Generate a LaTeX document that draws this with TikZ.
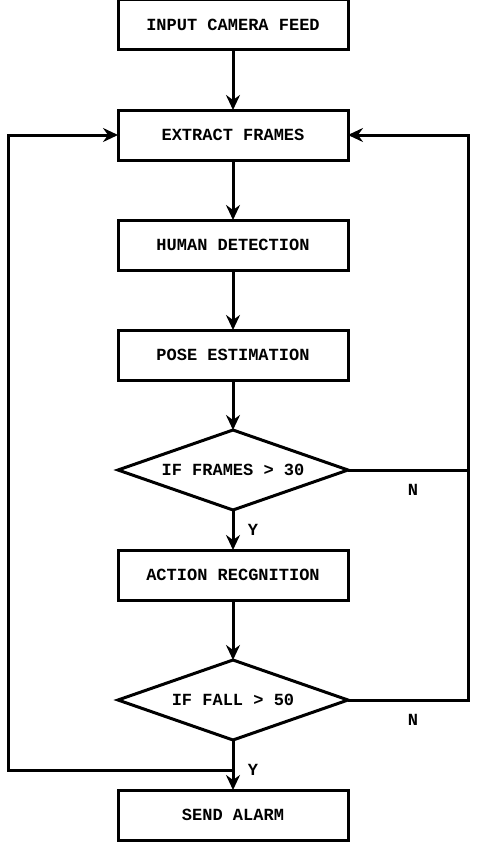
\documentclass[tikz,border=0pt]{standalone}
\usepackage{fontspec}
\newfontfamily\flowfont{Liberation Mono}
\usetikzlibrary{positioning,shapes.geometric,arrows.meta}

\begin{document}
\begin{tikzpicture}[x=1pt, y=1pt,
					node distance=60pt,
					stepbox/.style={rectangle, draw=black, line width=3pt, outer sep=0pt, minimum width=230pt,
						minimum height=50pt, font=\flowfont\bfseries\fontsize{17}{20}\selectfont},
					decision/.style={diamond, aspect=2.875, draw=black, line width=3pt, outer sep=0pt,
						minimum width=230pt, minimum height=80pt, inner sep=0pt,
						font=\flowfont\bfseries\fontsize{17}{20}\selectfont},
					flow/.style={-{Stealth[length=15pt, width=14pt, inset=5pt]}, line width=3pt},
					branch/.style={font=\flowfont\bfseries\fontsize{17}{20}\selectfont}
					]
					\useasboundingbox (0,0) rectangle (478,-843);
					\node[stepbox] (feed) at (233,-25) {INPUT CAMERA FEED};
					\node[stepbox] (extract) [below=of feed] {EXTRACT FRAMES};
					\node[stepbox] (human) [below=of extract] {HUMAN DETECTION};
					\node[stepbox] (pose) [below=of human] {POSE ESTIMATION};
					\node[decision] (frames) [below=50pt of pose] {IF FRAMES > 30};
					\node[stepbox] (action) [below=40pt of frames] {ACTION RECGNITION};
					\node[decision] (fall) [below=of action] {IF FALL > 50};
					\node[stepbox] (alarm) [below=50pt of fall] {SEND ALARM};
					\coordinate (rloop) at ([xshift=120pt]extract.east);
					\coordinate (lloop) at ([xshift=-110pt]extract.west);
					\draw[flow] (feed) -- (extract);
					\draw[flow] (extract) -- (human);
					\draw[flow] (human) -- (pose);
					\draw[flow] (pose) -- (frames);
					\draw[flow] (frames) -- (action);
					\draw[flow] (action) -- (fall);
					\draw[flow] (fall) -- (alarm) coordinate[pos=0.6] (ytap);
					\draw[flow] (frames.east) -| (rloop) -- (extract.east);
					\draw[line width=3pt] (fall.east) -| (frames.east -| rloop);
					\draw[flow] (ytap) -| (lloop) -- (extract.west);
					\node[branch] (yes1) at ([xshift=20pt, yshift=-20pt]frames.south) {Y};
					\node[branch] (no1) at ([xshift=65pt, yshift=-20pt]frames.east) {N};
					\node[branch] (yes2) at ([xshift=20pt, yshift=-30pt]fall.south) {Y};
					\node[branch] (no2) at ([xshift=65pt, yshift=-20pt]fall.east) {N};
				\end{tikzpicture}
\end{document}
